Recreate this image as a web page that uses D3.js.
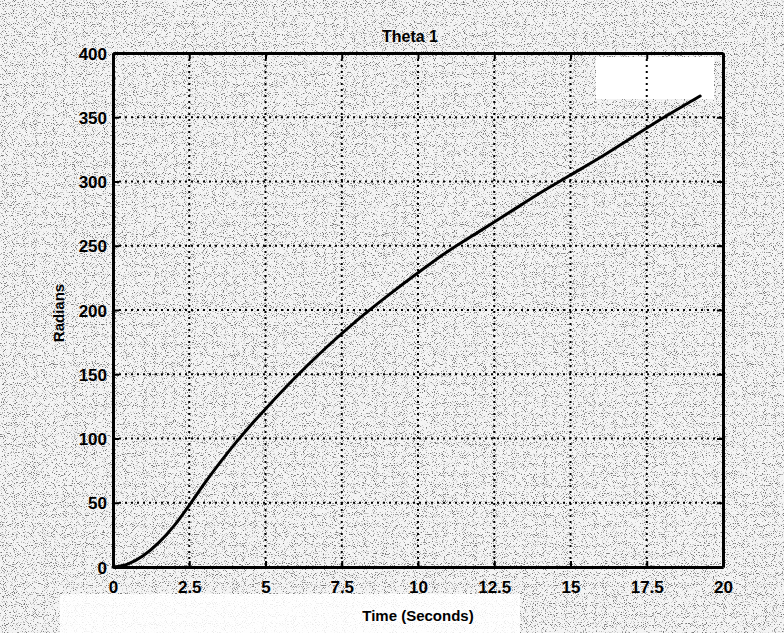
<!DOCTYPE html>
<html>
<head>
<meta charset="utf-8">
<script src="https://cdn.jsdelivr.net/npm/d3@7"></script>
<style>
  html, body { margin: 0; padding: 0; background: #fff; }
  svg { display: block; }
  text { font-family: "Liberation Sans", Arial, sans-serif; fill: #000; }
</style>
</head>
<body>
<svg id="chart" width="784" height="633"></svg>
<script>
// values
const timeSec = [0, 0.5, 1, 1.5, 2, 2.5, 3, 3.5, 4, 4.5, 5, 6, 7, 8, 9, 10, 11, 12, 13, 14, 15, 16, 17, 18, 19, 19.25];
const theta1 = [0, 2.5, 9, 19, 32, 48, 65, 81, 96, 110, 123, 148, 171, 192, 211, 229, 246, 261, 276, 291, 305, 319, 334, 349, 363, 366.5];
const xTicks = [0, 2.5, 5, 7.5, 10, 12.5, 15, 17.5, 20];
const xTickLabels = ["0", "2.5", "5", "7.5", "10", "12.5", "15", "17.5", "20"];
const yTicks = [0, 50, 100, 150, 200, 250, 300, 350, 400];

const W = 784, H = 633;
const m = { l: 113, r: 61, t: 53, b: 66 };

const svg = d3.select("#chart");

// halftone-ish scan background
const defs = svg.append("defs");
const f = defs.append("filter").attr("id", "grain")
  .attr("x", 0).attr("y", 0).attr("width", "100%").attr("height", "100%");
f.append("feTurbulence").attr("type", "fractalNoise")
  .attr("baseFrequency", 1.1).attr("numOctaves", 1).attr("seed", 7);
f.append("feColorMatrix").attr("type", "matrix")
  .attr("values", "0 0 0 0 0  0 0 0 0 0  0 0 0 0 0  -7 0 0 0 3.1");

svg.append("rect").attr("width", W).attr("height", H).attr("fill", "#f4f4f4");
svg.append("rect").attr("width", W).attr("height", H).attr("fill", "#000")
  .attr("filter", "url(#grain)").attr("opacity", 0.5);

// white patches of the scan
const patch = svg.append("g").attr("fill", "#fff");
patch.append("rect").attr("x", 60).attr("y", 594).attr("width", 460).attr("height", 39).attr("opacity", 0.85);
patch.append("rect").attr("x", 596).attr("y", 57).attr("width", 118).attr("height", 42);

const x = d3.scaleLinear().domain([0, 20]).range([m.l, W - m.r]);
const y = d3.scaleLinear().domain([0, 400]).range([H - m.b, m.t]);

// dotted grid
const grid = svg.append("g").attr("stroke", "#000").attr("stroke-width", 2)
  .attr("stroke-dasharray", "2 4");
grid.selectAll("line.gx").data(xTicks.slice(1, -1)).join("line")
  .attr("x1", d => x(d)).attr("x2", d => x(d))
  .attr("y1", y(400)).attr("y2", y(0));
grid.selectAll("line.gy").data(yTicks.slice(1, -1)).join("line")
  .attr("x1", x(0)).attr("x2", x(20))
  .attr("y1", d => y(d)).attr("y2", d => y(d));

// axes (ticks point inward, on all four sides)
const axisB = d3.axisBottom(x).tickValues(xTicks).tickFormat((d, i) => xTickLabels[i])
  .tickSizeInner(-6).tickSizeOuter(0).tickPadding(14);
const axisL = d3.axisLeft(y).tickValues(yTicks).tickSizeInner(-6).tickSizeOuter(0).tickPadding(6);

const gB = svg.append("g").attr("transform", `translate(0,${y(0)})`).call(axisB);
const gL = svg.append("g").attr("transform", `translate(${x(0)},0)`).call(axisL);
const gT = svg.append("g").attr("transform", `translate(0,${y(400)})`)
  .call(d3.axisTop(x).tickValues(xTicks).tickSizeInner(-6).tickSizeOuter(0).tickFormat(""));
const gR = svg.append("g").attr("transform", `translate(${x(20)},0)`)
  .call(d3.axisRight(y).tickValues(yTicks).tickSizeInner(-6).tickSizeOuter(0).tickFormat(""));

[gB, gL, gT, gR].forEach(g => {
  g.select(".domain").attr("stroke", "#000").attr("stroke-width", 3);
  g.selectAll(".tick line").attr("stroke", "#000").attr("stroke-width", 2);
});
[gB, gL].forEach(g => {
  g.selectAll(".tick text")
    .attr("font-size", 17).attr("font-weight", "bold")
    .attr("font-family", "'Liberation Sans Narrow', 'Liberation Sans', Arial, sans-serif")
    .attr("fill", "#000");
});
gL.selectAll(".tick text").attr("dy", "0.36em");

// the curve
const line = d3.line().x((d, i) => x(timeSec[i])).y(d => y(d)).curve(d3.curveMonotoneX);
svg.append("path").datum(theta1)
  .attr("fill", "none").attr("stroke", "#000").attr("stroke-width", 3)
  .attr("stroke-linejoin", "round").attr("stroke-linecap", "round")
  .attr("d", line);

// labels
svg.append("text").attr("x", 410).attr("y", 42).attr("text-anchor", "middle")
  .attr("font-size", 16).attr("font-weight", "bold").text("Theta 1");
svg.append("text").attr("x", x(10)).attr("y", 621).attr("text-anchor", "middle")
  .attr("font-size", 15).attr("font-weight", "bold").text("Time (Seconds)");
svg.append("text").attr("transform", `translate(64,${y(200) + 3}) rotate(-90)`)
  .attr("text-anchor", "middle").attr("font-size", 15).attr("font-weight", "bold")
  .text("Radians");
</script>
</body>
</html>
